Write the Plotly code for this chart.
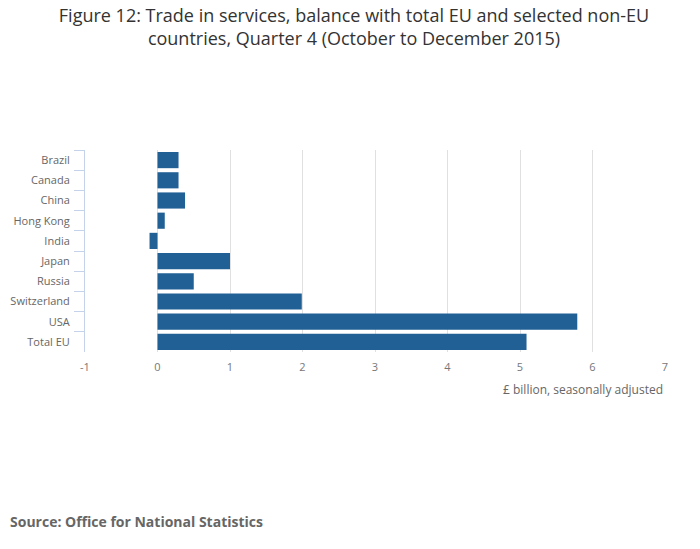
import plotly.graph_objects as go

# data
countries = ['Brazil', 'Canada', 'China', 'Hong Kong', 'India', 'Japan',
             'Russia', 'Switzerland', 'USA', 'Total EU']
balance = [0.29, 0.29, 0.38, 0.1, -0.11, 1.0, 0.5, 1.99, 5.79, 5.09]
x_ticks = [-1, 0, 1, 2, 3, 4, 5, 6, 7]
x_labels = ['-1', '0', '1', '2', '3', '4', '5', '6', '7']

title_text = ('Figure 12: Trade in services, balance with total EU and selected non-EU<br>'
              'countries, Quarter 4 (October to December 2015)')

# page body adds an 8px margin, so the figure is drawn 8px smaller
W, H = 692, 541
L, R, T, B = 77, 35, 142, 197
pw, ph = W - L - R, H - T - B

fig = go.Figure()
fig.add_trace(go.Bar(y=countries, x=balance, orientation='h',
                     marker=dict(color='#206095', line=dict(width=0)),
                     hoverinfo='x+y'))

fig.update_layout(
    width=W, height=H,
    font=dict(family='Open Sans', color='#666666'),
    title=dict(text=title_text, x=0.5, xanchor='center', y=1 - 14 / H, yanchor='top',
               font=dict(size=18, color='#333333')),
    margin=dict(l=L, r=R, t=T, b=B),
    plot_bgcolor='white', paper_bgcolor='white',
    bargap=0.2, showlegend=False,
)
fig.update_xaxes(range=[-1, 7], tickvals=x_ticks, ticktext=x_labels, showgrid=True,
                 gridcolor='#e0e0e0', zeroline=False, showline=False,
                 tickfont=dict(size=11, color='#777777'), ticks='',
                 ticklabelstandoff=7, automargin=False)
fig.update_yaxes(autorange='reversed', showline=True, linecolor='#c5d3ea', linewidth=1,
                 ticks='outside', tickson='boundaries', ticklen=10, tickcolor='#c5d3ea',
                 ticklabelstandoff=12, showgrid=False, automargin=False,
                 tickfont=dict(size=11, color='#666666'))

fig.add_annotation(text='£ billion, seasonally adjusted', xref='paper', yref='paper',
                   x=1, y=-37 / ph, xanchor='right', yanchor='middle', showarrow=False,
                   font=dict(size=12, color='#666666'))
fig.add_annotation(text='<b>Source: Office for National Statistics</b>', xref='paper', yref='paper',
                   x=(0 - L) / pw, y=-(513 - (H - B)) / ph, xanchor='left', yanchor='middle',
                   showarrow=False, font=dict(size=14, color='#666666'))

fig.write_html('out.html')
